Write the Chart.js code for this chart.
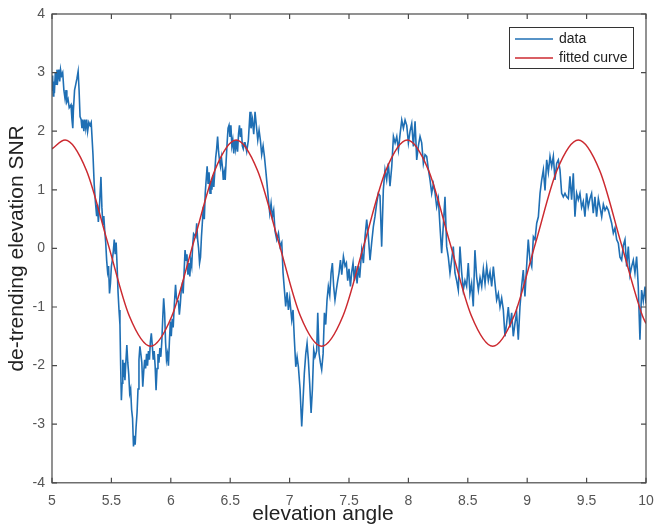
<!DOCTYPE html>
<html>
<head>
<meta charset="utf-8">
<script src="https://cdn.jsdelivr.net/npm/chart.js@4.4.1/dist/chart.umd.min.js"></script>
<style>
  html, body { margin: 0; padding: 0; background: #ffffff; }
  #c { display: block; }
</style>
</head>
<body>
<canvas id="c" width="654" height="529"></canvas>
<script>
// ---- data ----
const seriesNames = ['data', 'fitted curve'];
const xTitle = 'elevation angle';
const yTitle = 'de-trending elevation SNR';
const xTicks = [5, 5.5, 6, 6.5, 7, 7.5, 8, 8.5, 9, 9.5, 10];
const yTicks = [-4, -3, -2, -1, 0, 1, 2, 3, 4];

const dataAngle = [
5.000,5.005,5.010,5.015,5.020,5.028,5.035,5.042,5.050,5.058,5.065,5.072,5.080,5.090,5.100,5.110,5.118,5.125,5.135,5.145,
5.160,5.168,5.175,5.180,5.190,5.200,5.210,5.220,5.228,5.236,5.245,5.252,5.260,5.268,5.276,5.284,5.292,5.300,5.310,5.320,
5.330,5.345,5.355,5.365,5.376,5.382,5.390,5.398,5.412,5.420,5.428,5.436,5.444,5.452,5.460,5.468,5.476,5.484,5.492,5.500,
5.508,5.516,5.524,5.532,5.540,5.548,5.556,5.564,5.572,5.578,5.584,5.590,5.596,5.602,5.608,5.614,5.620,5.630,5.638,5.646,
5.654,5.662,5.670,5.678,5.686,5.694,5.700,5.708,5.716,5.724,5.732,5.740,5.748,5.756,5.764,5.772,5.780,5.788,5.796,5.804,
5.812,5.820,5.828,5.836,5.844,5.852,5.860,5.868,5.876,5.884,5.892,5.900,5.908,5.916,5.924,5.932,5.940,5.948,5.956,5.964,
5.972,5.980,5.988,5.996,6.004,6.012,6.020,6.030,6.040,6.048,6.056,6.064,6.072,6.080,6.088,6.096,6.104,6.112,6.120,6.128,
6.136,6.144,6.152,6.160,6.168,6.176,6.184,6.192,6.210,6.218,6.226,6.234,6.242,6.250,6.258,6.266,6.274,6.282,6.290,6.306,
6.314,6.322,6.330,6.338,6.346,6.354,6.362,6.370,6.378,6.386,6.394,6.402,6.410,6.418,6.426,6.434,6.442,6.450,6.458,6.466,
6.474,6.482,6.490,6.498,6.506,6.514,6.522,6.530,6.538,6.546,6.554,6.562,6.570,6.578,6.586,6.594,6.602,6.610,6.618,
6.625,6.639,6.653,6.667,6.675,6.687,6.698,6.709,6.720,6.732,6.743,6.754,6.765,6.777,6.788,6.799,6.810,6.821,6.833,6.844,
6.855,6.866,6.877,6.892,6.906,6.920,6.934,6.945,6.956,6.967,6.979,6.990,7.001,7.018,7.029,7.040,7.052,7.063,7.074,7.088,
7.102,7.113,7.124,7.136,7.147,7.158,7.169,7.181,7.192,7.203,7.214,7.228,7.237,7.248,7.259,7.270,7.282,7.293,7.304,7.315,
7.326,7.338,7.349,7.360,7.371,7.382,7.394,7.405,7.416,7.428,7.439,7.453,7.467,7.478,7.489,7.500,7.512,7.523,7.534,7.545,
7.556,7.568,7.579,7.590,7.607,7.621,7.635,7.649,7.663,7.677,7.691,7.705,7.719,7.733,7.747,7.761,7.775,7.789,7.803,7.817,
7.831,7.845,7.860,7.874,7.888,7.902,7.916,7.930,7.944,7.958,7.972,7.986,8.000,8.014,8.028,8.042,8.056,8.070,8.084,8.098,
8.112,8.126,8.140,8.154,8.168,8.182,8.196,8.210,8.224,8.238,8.252,8.266,8.280,8.294,8.308,
8.322,8.336,8.350,8.364,8.378,8.392,8.406,8.420,8.434,8.448,8.462,8.476,8.490,8.504,8.518,8.532,8.546,8.560,8.574,8.589,
8.603,8.617,8.631,8.645,8.659,8.673,8.687,8.701,8.715,8.729,8.743,8.757,8.771,8.785,8.799,8.813,8.827,8.841,8.855,8.869,
8.883,8.897,8.911,8.925,8.939,8.953,8.967,8.981,8.995,9.009,9.023,9.038,9.052,9.066,9.080,9.094,9.108,9.122,9.136,9.150,
9.164,9.178,9.192,9.206,9.220,9.234,9.248,9.262,9.276,9.290,9.304,9.318,9.332,9.346,9.360,9.374,9.388,9.402,9.416,9.430,
9.444,9.458,9.472,9.486,9.500,9.514,9.528,9.542,9.556,9.570,9.584,9.599,9.613,9.627,9.641,9.655,9.669,9.683,9.697,9.711,
9.725,9.739,9.753,9.767,9.781,9.795,9.809,9.823,9.837,9.851,9.865,9.879,9.893,9.907,9.921,9.935,9.949,9.963,9.977,9.992,10.000
];
const dataSNR = [
2.70,2.95,2.60,2.85,2.65,3.00,2.80,3.05,2.90,3.05,2.85,3.05,2.95,3.00,2.70,2.55,2.70,2.50,2.55,2.40,
2.45,2.20,2.05,2.35,2.70,2.80,2.90,3.02,2.70,2.25,2.20,2.05,2.20,2.00,2.20,2.05,2.20,2.00,2.15,2.10,
2.15,1.60,1.10,0.80,0.55,0.75,0.45,0.65,1.22,0.70,0.40,0.55,0.30,0.10,-0.20,-0.40,-0.30,-0.77,-0.60,-0.30,
-0.20,-0.05,0.15,-0.10,0.10,-0.30,-0.75,-1.05,-1.30,-2.00,-2.59,-2.30,-1.90,-2.20,-1.95,-2.25,-2.00,-1.65,-1.95,-2.15,
-2.47,-2.40,-2.75,-2.90,-3.38,-3.20,-3.35,-3.04,-2.80,-2.40,-1.90,-1.67,-1.80,-1.95,-2.36,-2.10,-1.90,-2.05,-1.80,-2.00,
-1.75,-1.90,-1.60,-1.45,-1.65,-1.90,-1.75,-2.00,-2.42,-2.05,-1.80,-1.95,-1.70,-1.85,-1.60,-1.20,-0.85,-1.10,-1.60,-1.90,
-1.80,-2.00,-1.60,-1.25,-1.50,-1.20,-1.35,-0.95,-0.62,-0.85,-0.90,-0.90,-1.13,-0.95,-0.70,-0.62,-0.77,-0.40,-0.03,-0.20,
-0.10,-0.45,-0.25,-0.48,-0.20,-0.30,0.05,0.25,0.20,0.43,0.15,0.00,-0.25,-0.15,0.20,0.45,0.71,0.50,0.95,1.40,
1.10,1.30,0.94,1.15,1.00,1.25,1.05,1.30,1.55,1.70,1.91,1.65,1.50,1.40,1.55,1.40,1.17,1.30,1.17,1.50,
1.80,2.05,2.10,1.90,2.10,1.75,1.85,1.62,1.85,1.70,1.85,1.65,1.95,2.10,1.90,2.05,1.75,1.70,1.80,
1.80,1.65,1.85,2.33,2.05,2.20,1.95,2.33,2.10,1.85,2.02,1.85,1.60,1.75,1.57,1.34,1.10,0.85,0.60,0.77,
0.54,0.65,0.30,0.15,0.26,0.03,0.10,-0.42,-0.70,-0.99,-0.75,-1.05,-0.85,-1.22,-1.05,-1.55,-2.02,-1.85,-2.02,-2.40,
-3.04,-2.60,-2.13,-1.80,-1.62,-1.90,-2.30,-2.81,-2.40,-1.73,-1.85,-1.75,-1.10,-1.79,-1.95,-2.07,-1.80,-1.10,-1.30,-0.88,
-0.65,-0.80,-0.42,-0.25,-0.65,-0.88,-0.70,-0.55,-0.42,-0.20,-0.45,-0.14,-0.30,-0.25,-0.55,-0.35,-0.65,-0.40,-0.25,-0.55,
-0.30,-0.60,-0.30,-0.50,-0.03,-0.25,0.20,0.49,0.20,-0.20,0.10,0.37,0.55,0.77,0.94,0.90,0.03,1.00,1.34,1.17,
1.45,1.06,1.40,1.91,1.80,1.91,1.68,1.95,2.19,2.05,2.19,2.10,1.80,2.00,2.13,1.74,2.17,1.51,1.75,1.91,
1.80,1.45,1.60,1.57,1.35,1.17,0.94,1.10,0.95,0.71,0.85,0.37,-0.08,0.40,0.88,
0.03,-0.15,-0.42,-0.20,0.03,-0.42,-0.55,-0.71,0.03,-0.40,-0.71,-0.55,-0.65,-0.25,-0.77,-0.60,-0.99,-0.03,-0.48,-0.71,
-0.50,-0.65,-0.35,-0.60,-0.31,-0.55,-0.40,-0.65,-0.31,-0.60,-0.88,-0.77,-1.00,-0.85,-1.05,-1.50,-1.28,-1.00,-1.35,-1.10,
-1.50,-1.28,-1.10,-1.56,-1.00,-0.65,-0.37,-0.82,-0.31,0.15,-0.20,-0.31,0.20,0.15,0.43,0.54,0.94,1.17,1.34,0.99,
1.51,1.30,1.57,1.40,1.57,1.17,1.45,1.51,1.34,0.94,0.88,0.94,0.88,0.85,1.23,0.83,1.28,0.54,0.94,0.83,
0.94,0.70,0.80,0.54,0.94,0.71,0.85,0.94,0.60,0.88,0.54,0.85,0.70,0.54,0.75,0.65,0.71,0.65,0.54,0.43,
0.26,0.35,0.15,0.09,-0.15,-0.20,0.05,0.15,-0.31,0.03,-0.45,-0.31,-0.20,-0.42,-0.14,-0.65,-1.56,-0.71,-0.90,-0.65,-0.94
];

const fitAngle = [5.00,5.11,5.29,5.47,5.65,5.83,6.01,6.19,6.37,6.55,6.73,6.91,7.09,7.27,7.45,7.63,7.81,7.99,8.17,8.35,8.53,8.71,8.89,9.07,9.25,9.43,9.61,9.79,9.97,10.00];
const fitSNR   = [1.70,1.85,1.33,0.09,-1.15,-1.67,-1.15,0.09,1.33,1.85,1.33,0.09,-1.15,-1.67,-1.15,0.09,1.33,1.85,1.33,0.09,-1.15,-1.67,-1.15,0.09,1.33,1.85,1.33,0.09,-1.15,-1.28];

const blue = '#1f6fb4';
const red = '#cc2a30';
const fontFam = '"Liberation Sans", Arial, Helvetica, sans-serif';

// ---- plugins: MATLAB-style box with inward ticks, and boxed legend ----
const framePlugin = {
  id: 'frame',
  afterDatasetsDraw(chart) {
    const {ctx, chartArea: a, scales} = chart;
    const x = scales.x, y = scales.y;
    ctx.save();
    ctx.strokeStyle = '#4a4a4a';
    ctx.lineWidth = 1.2;
    ctx.strokeRect(a.left, a.top, a.right - a.left, a.bottom - a.top);
    const L = 5;
    ctx.beginPath();
    x.ticks.forEach(t => {
      const px = x.getPixelForValue(t.value);
      ctx.moveTo(px, a.bottom); ctx.lineTo(px, a.bottom - L);
      ctx.moveTo(px, a.top); ctx.lineTo(px, a.top + L);
    });
    y.ticks.forEach(t => {
      const py = y.getPixelForValue(t.value);
      ctx.moveTo(a.left, py); ctx.lineTo(a.left + L, py);
      ctx.moveTo(a.right, py); ctx.lineTo(a.right - L, py);
    });
    ctx.stroke();
    ctx.restore();
  }
};

const legendPlugin = {
  id: 'boxLegend',
  afterDraw(chart) {
    const {ctx, chartArea: a} = chart;
    const w = 124, h = 41;
    const left = a.right - 13 - w, top = a.top + 13;
    ctx.save();
    ctx.fillStyle = '#ffffff';
    ctx.fillRect(left, top, w, h);
    ctx.strokeStyle = '#333333';
    ctx.lineWidth = 1;
    ctx.strokeRect(left + 0.5, top + 0.5, w, h);
    ctx.font = '14px ' + fontFam;
    ctx.textBaseline = 'middle';
    chart.data.datasets.forEach((ds, i) => {
      const cy = top + 12 + i * 19;
      ctx.strokeStyle = ds.borderColor;
      ctx.lineWidth = 1.5;
      ctx.beginPath();
      ctx.moveTo(left + 6, cy); ctx.lineTo(left + 44, cy);
      ctx.stroke();
      ctx.fillStyle = '#222222';
      ctx.fillText(ds.label, left + 50, cy);
    });
    ctx.restore();
  }
};

new Chart(document.getElementById('c'), {
  type: 'line',
  data: {
    datasets: [
      {
        label: seriesNames[0],
        data: dataAngle.map((v, i) => ({x: v, y: dataSNR[i]})),
        borderColor: blue,
        borderWidth: 1.6,
        pointRadius: 0,
        tension: 0,
        order: 1
      },
      {
        label: seriesNames[1],
        data: fitAngle.map((v, i) => ({x: v, y: fitSNR[i]})),
        borderColor: red,
        borderWidth: 1.5,
        pointRadius: 0,
        cubicInterpolationMode: 'monotone',
        order: 0
      }
    ]
  },
  options: {
    responsive: false,
    animation: false,
    events: [],
    layout: {padding: {top: 14, right: 8, left: 0, bottom: 0}},
    plugins: {
      legend: {display: false},
      tooltip: {enabled: false},
      title: {
        display: true,
        text: xTitle,
        position: 'bottom',
        color: '#222222',
        font: {family: fontFam, size: 21, weight: 'normal'},
        padding: {top: -8, bottom: 2}
      }
    },
    scales: {
      x: {
        type: 'linear',
        min: 5, max: 10,
        grid: {display: false, drawTicks: false},
        border: {display: false},
        afterBuildTicks: s => { s.ticks = xTicks.map(v => ({value: v})); },
        afterFit: s => { s.height = 27; s.paddingLeft = 0; s.paddingRight = 0; },
        ticks: {
          color: '#555555',
          font: {family: fontFam, size: 14},
          padding: 10,
          maxRotation: 0,
          autoSkip: false,
          callback: v => String(v)
        }
      },
      y: {
        type: 'linear',
        min: -4, max: 4,
        grid: {display: false, drawTicks: false},
        border: {display: false},
        afterBuildTicks: s => { s.ticks = yTicks.map(v => ({value: v})); },
        afterFit: s => { s.width = 52; s.paddingTop = 0; s.paddingBottom = 0; },
        ticks: {
          color: '#555555',
          font: {family: fontFam, size: 14},
          padding: 7,
          autoSkip: false,
          callback: v => String(v)
        },
        title: {
          display: true,
          text: yTitle,
          color: '#222222',
          font: {family: fontFam, size: 21, weight: 'normal'},
          padding: {top: 5, bottom: 0}
        }
      }
    }
  },
  plugins: [framePlugin, legendPlugin]
});
</script>
</body>
</html>
